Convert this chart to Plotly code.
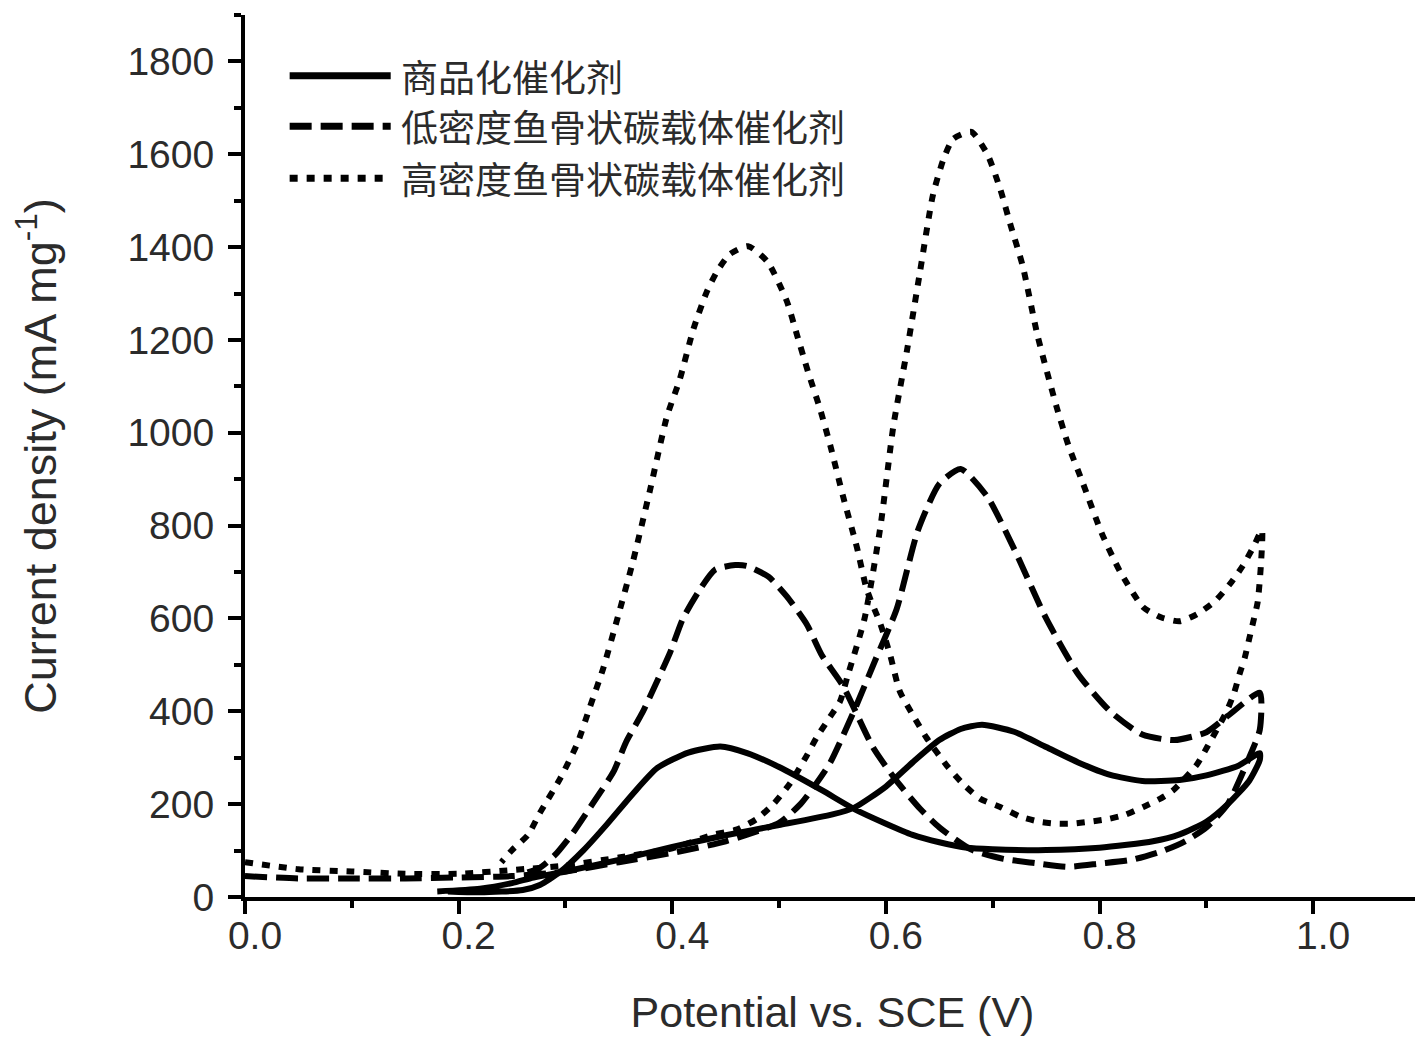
import plotly.graph_objects as go

# ---- data ----
series_names = ["商品化催化剂", "低密度鱼骨状碳载体催化剂", "高密度鱼骨状碳载体催化剂"]

# commercial catalyst (solid): forward scan then backward scan
commercial_x = [0.18, 0.22, 0.25, 0.27, 0.30, 0.35, 0.40, 0.45, 0.50, 0.55, 0.57, 0.60, 0.625, 0.65, 0.67,
                0.69, 0.72, 0.75, 0.78, 0.81, 0.84, 0.875, 0.90, 0.93, 0.95,
                0.95, 0.94, 0.92, 0.90, 0.875, 0.85, 0.80, 0.75, 0.70, 0.676, 0.65, 0.625, 0.60, 0.57,
                0.54, 0.50, 0.47, 0.445, 0.415, 0.386, 0.363, 0.339, 0.317, 0.295, 0.276, 0.26, 0.22, 0.19]
commercial_y = [12, 18, 30, 42, 55, 80, 108, 133, 155, 178, 192, 238, 290, 338, 362,
                371, 356, 323, 290, 263, 250, 252, 262, 283, 310,
                295, 250, 200, 162, 135, 120, 106, 101, 103, 106, 118, 134, 158, 190,
                230, 280, 310, 324, 311, 278, 222, 157, 101, 54, 26, 15, 10, 12]

# low-density fishbone carbon supported catalyst (dashed)
low_x = [0.0, 0.05, 0.10, 0.15, 0.20, 0.25, 0.30, 0.35, 0.40, 0.45, 0.50, 0.52, 0.535, 0.548, 0.57, 0.59,
         0.61, 0.63, 0.65, 0.67, 0.695, 0.72, 0.75, 0.78, 0.81, 0.84, 0.87, 0.90, 0.92, 0.95,
         0.95, 0.94, 0.92, 0.90, 0.88, 0.86, 0.83, 0.80, 0.77, 0.74, 0.71, 0.68, 0.65, 0.632, 0.61,
         0.588, 0.56, 0.54, 0.526, 0.507, 0.49, 0.47, 0.459, 0.44, 0.426, 0.41, 0.398, 0.386, 0.372,
         0.357, 0.345, 0.326, 0.307, 0.29, 0.276, 0.26]
low_y = [45, 40, 40, 40, 42, 45, 55, 75, 95, 120, 160, 200, 245, 290, 400, 510,
         620, 790, 890, 922, 862, 750, 600, 480, 400, 350, 338, 355, 390, 440,
         360, 300, 200, 150, 120, 100, 80, 72, 65, 73, 82, 102, 150, 190, 250,
         322, 454, 521, 587, 648, 690, 713, 715, 705, 663, 600, 527, 466, 397,
         335, 270, 203, 138, 90, 63, 50]

# high-density fishbone carbon supported catalyst (dotted)
high_x = [0.0, 0.05, 0.10, 0.15, 0.20, 0.25, 0.30, 0.35, 0.40, 0.438, 0.46, 0.479, 0.495, 0.51, 0.526,
          0.535, 0.548, 0.557, 0.564, 0.58, 0.595, 0.607, 0.62, 0.632, 0.644, 0.654, 0.663, 0.68,
          0.695, 0.707, 0.717, 0.728, 0.742, 0.76, 0.771, 0.784, 0.802, 0.819, 0.841, 0.858, 0.875,
          0.891, 0.908, 0.922, 0.934, 0.944, 0.952,
          0.951, 0.948, 0.944, 0.94, 0.936, 0.931, 0.926, 0.919, 0.901, 0.891, 0.869, 0.857, 0.841,
          0.824, 0.808, 0.79, 0.774, 0.76, 0.744, 0.726, 0.707, 0.688, 0.672, 0.657, 0.638, 0.626,
          0.613, 0.604, 0.595, 0.582, 0.573, 0.56, 0.548, 0.538, 0.527, 0.517, 0.507, 0.489, 0.471,
          0.454, 0.442, 0.432, 0.42, 0.407, 0.395, 0.379, 0.363, 0.349, 0.335, 0.323, 0.311, 0.295,
          0.276, 0.265, 0.25, 0.24]
high_y = [75, 60, 55, 50, 50, 58, 68, 85, 105, 134, 145, 168, 201, 244, 305,
          343, 389, 421, 475, 600, 800, 1015, 1181, 1348, 1512, 1590, 1633, 1648,
          1600, 1525, 1445, 1360, 1209, 1054, 972, 894, 784, 702, 624, 602, 594,
          609, 637, 674, 713, 754, 790,
          713, 635, 594, 555, 516, 480, 440, 400, 324, 285, 230, 212, 194,
          177, 168, 162, 158, 158, 162, 173, 194, 212, 244, 283, 343, 389,
          443, 521, 587, 663, 752, 862, 972, 1054, 1132, 1209, 1285, 1369, 1402,
          1385, 1348, 1302, 1225, 1115, 1035, 875, 721, 603, 490, 410, 330, 255,
          181, 134, 101, 75]

x_tick_vals = [0.0, 0.2, 0.4, 0.6, 0.8, 1.0]
x_tick_text = ["0.0", "0.2", "0.4", "0.6", "0.8", "1.0"]
y_tick_vals = [0, 200, 400, 600, 800, 1000, 1200, 1400, 1600, 1800]

x_title = "Potential vs. SCE (V)"
y_title = "Current density (mA mg<sup>-1</sup>)"

# ---- styles ----
dashes = ["solid", "22px,9px", "8px,9px"]
line_w = 6
txt_color = "#2b2b2b"
latin_font = "Liberation Sans, Arial, sans-serif"
cjk_font = "Noto Sans CJK SC"

fig = go.Figure()
data_sets = [(commercial_x, commercial_y), (low_x, low_y), (high_x, high_y)]
for (xs, ys), name, d in zip(data_sets, series_names, dashes):
    fig.add_trace(go.Scatter(
        x=xs, y=ys, mode="lines", name=name, showlegend=False,
        line=dict(color="black", width=line_w, dash=d, shape="spline", smoothing=0.6),
    ))

# custom legend (long line samples like the reference)
legend_rows = [0.931, 0.874, 0.815]
for name, d, yr in zip(series_names, dashes, legend_rows):
    fig.add_shape(type="line", xref="paper", yref="paper", x0=0.038, x1=0.124, y0=yr, y1=yr,
                  line=dict(color="black", width=line_w + 1, dash=d))
    fig.add_annotation(xref="paper", yref="paper", x=0.131, y=yr, text=name, showarrow=False,
                       xanchor="left", yanchor="middle",
                       font=dict(family=cjk_font, size=37, color=txt_color))

axis_common = dict(
    showline=True, linecolor="black", linewidth=4,
    ticks="outside", ticklen=13, tickwidth=4, tickcolor="black",
    showgrid=False, zeroline=False, mirror=False,
    tickfont=dict(family=latin_font, size=39, color=txt_color),
)

fig.update_xaxes(
    range=[0, 1.1], tickvals=x_tick_vals, ticktext=x_tick_text,
    ticklabelstandoff=-12, ticklabelshift=10,
    minor=dict(ticks="outside", ticklen=7, tickwidth=4, tickcolor="black", dtick=0.1, tick0=0),
    title=dict(text=x_title, font=dict(family=latin_font, size=43, color=txt_color), standoff=42),
    **axis_common,
)
fig.update_yaxes(
    range=[0, 1900], tickvals=y_tick_vals, ticklabelstandoff=6,
    minor=dict(ticks="outside", ticklen=7, tickwidth=4, tickcolor="black", dtick=100, tick0=0),
    title=dict(text=y_title, font=dict(family=latin_font, size=45, color=txt_color), standoff=58),
    **axis_common,
)

fig.update_layout(
    width=1415, height=1039,
    margin=dict(l=237, r=3, t=7, b=150),
    plot_bgcolor="white", paper_bgcolor="white",
    showlegend=False,
)

fig.write_html("out.html")
